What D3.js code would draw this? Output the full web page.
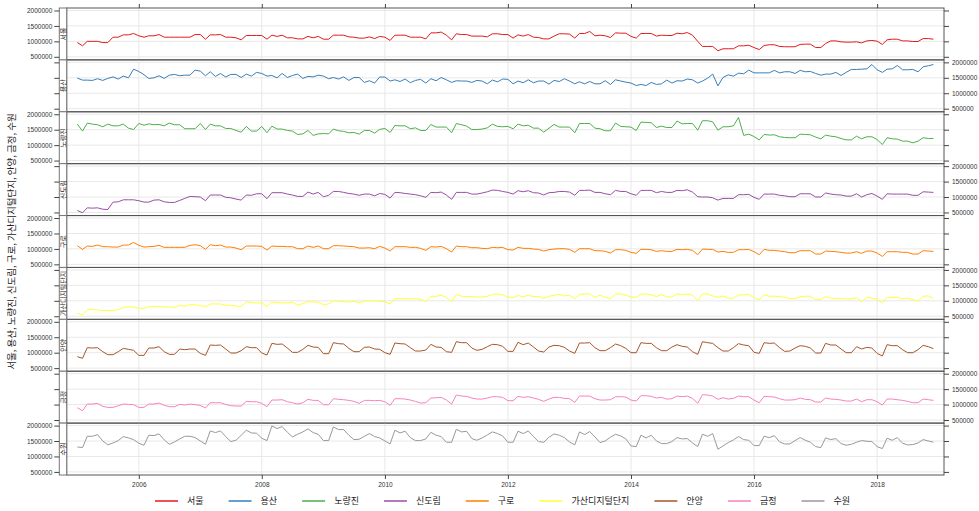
<!DOCTYPE html>
<html>
<head>
<meta charset="utf-8">
<script src="https://cdn.jsdelivr.net/npm/d3@7"></script>
<style>
body { margin: 0; background: #fff; }
svg { display: block; }
</style>
</head>
<body>
<svg width="979" height="511"></svg>
<script>
// monthly passenger counts, 2005-01 .. 2018-12, in thousands
const stations = ["서울", "용산", "노량진", "신도림", "구로", "가산디지털단지", "안양", "금정", "수원"];
const colors = ["#E41A1C", "#377EB8", "#4DAF4A", "#984EA3", "#FF7F00", "#FFFF33", "#A65628", "#F781BF", "#999999"];

const seoul = [960,855,1000,1000,1000,960,960,1135,1135,1210,1210,1255,
  1180,1135,1180,1180,1220,1135,1135,1135,1135,1135,1135,1220,
  1220,1070,1210,1210,1220,1135,1135,1115,1050,1190,1190,1190,
  1190,1070,1200,1160,1200,1115,1115,1080,1080,1160,1115,1160,
  1070,1070,1200,1200,1200,1145,1135,1105,1105,1145,1090,1160,
  1135,1030,1200,1200,1200,1135,1135,1135,1080,1275,1275,1300,
  1200,1050,1245,1220,1220,1170,1170,1170,1145,1245,1245,1220,
  1220,1105,1210,1170,1220,1135,1125,1080,1080,1170,1245,1245,
  1235,1105,1255,1255,1320,1180,1200,1180,1125,1275,1265,1265,
  1160,1105,1255,1255,1255,1170,1200,1190,1190,1265,1245,1285,
  1200,1000,835,835,835,695,760,760,760,855,855,875,
  800,735,865,890,890,835,825,825,825,900,910,910,
  800,800,930,1015,1015,985,975,975,985,950,1015,1030,
  1005,900,1050,1070,1070,1015,1015,995,995,1090,1090,1070];

const yongsan = [1490,1425,1425,1415,1470,1415,1480,1530,1460,1555,1500,1780,
  1705,1600,1480,1500,1565,1480,1585,1610,1565,1585,1585,1750,
  1715,1565,1695,1545,1640,1525,1610,1610,1510,1620,1555,1675,
  1640,1555,1575,1500,1640,1510,1575,1620,1480,1545,1530,1585,
  1555,1470,1510,1460,1530,1415,1510,1510,1350,1405,1330,1525,
  1525,1395,1435,1380,1460,1340,1415,1450,1330,1470,1405,1510,
  1435,1350,1405,1395,1395,1350,1415,1395,1305,1425,1370,1460,
  1450,1305,1395,1340,1435,1340,1395,1395,1295,1415,1380,1470,
  1395,1305,1370,1305,1380,1305,1305,1405,1285,1435,1395,1360,
  1330,1250,1285,1250,1350,1285,1305,1425,1330,1405,1395,1460,
  1435,1330,1395,1490,1620,1240,1510,1595,1555,1650,1630,1750,
  1660,1660,1660,1660,1740,1660,1695,1695,1640,1740,1695,1705,
  1640,1585,1620,1620,1675,1575,1675,1770,1770,1780,1790,1930,
  1760,1675,1780,1790,1900,1760,1760,1770,1695,1855,1890,1930];

const noryangjin = [1680,1455,1715,1680,1660,1595,1680,1625,1625,1680,1550,1505,
  1700,1645,1690,1660,1670,1625,1715,1660,1660,1530,1530,1530,
  1700,1505,1680,1625,1625,1540,1540,1475,1420,1605,1455,1455,
  1605,1400,1615,1520,1520,1475,1455,1345,1365,1475,1315,1365,
  1375,1365,1520,1465,1445,1400,1410,1355,1475,1475,1390,1510,
  1540,1410,1635,1625,1625,1530,1560,1475,1475,1670,1585,1585,
  1585,1400,1700,1660,1615,1505,1505,1520,1560,1680,1605,1595,
  1605,1530,1680,1625,1645,1550,1550,1420,1550,1670,1585,1585,
  1585,1400,1700,1700,1700,1550,1530,1465,1465,1715,1605,1595,
  1585,1475,1745,1735,1725,1570,1615,1570,1570,1780,1690,1700,
  1700,1485,1790,1790,1755,1485,1595,1595,1625,1895,1315,1355,
  1280,1170,1345,1325,1335,1270,1250,1240,1240,1355,1345,1335,
  1260,1205,1325,1290,1270,1215,1170,1170,1290,1205,1270,1270,
  1180,1020,1240,1205,1195,1130,1130,1075,1130,1240,1215,1215];

const sindorim = [565,490,650,640,650,605,595,835,845,910,910,910,
  880,835,835,900,910,845,825,825,890,955,1020,1010,
  1000,880,1065,1065,1065,990,975,935,900,1065,1055,1105,
  1105,945,1140,1140,1140,1095,1065,1020,1020,1160,1095,1150,
  1010,1055,1180,1180,1150,1115,1095,1055,1095,1095,1040,1115,
  1085,965,1150,1140,1115,1095,1075,1040,990,1150,1140,1160,
  1065,925,1150,1150,1150,1095,1095,1130,1170,1225,1215,1180,
  1150,1095,1205,1170,1205,1140,1130,1065,1140,1150,1180,1180,
  1160,1055,1215,1215,1225,1150,1150,1105,1075,1215,1180,1180,
  1105,1055,1215,1215,1215,1140,1180,1150,1150,1215,1205,1235,
  1160,1010,1000,1000,975,900,955,955,955,1075,1075,1085,
  990,925,1095,1095,1095,1055,1040,1010,1010,1105,1105,1105,
  1000,1000,1130,1095,1075,1065,1030,1030,1105,1000,1075,1115,
  1030,925,1105,1095,1095,1095,1095,1055,1055,1170,1160,1150];

const guro = [1104,985,1093,1082,1125,1072,1072,1060,1060,1125,1125,1212,
  1115,1060,1072,1082,1115,1050,1050,1050,1050,1050,1115,1136,
  1104,985,1136,1104,1125,1060,1060,1028,974,1093,1093,1093,
  1082,963,1093,1082,1082,1072,1072,1007,1007,1093,1050,1093,
  1007,1007,1104,1104,1093,1082,1072,1028,1028,1039,1007,1082,
  1028,931,1072,1072,1072,1050,1050,1018,953,1072,1060,1082,
  1007,899,1093,1072,1072,1039,1039,1018,1007,1050,1039,1050,
  974,963,1050,1018,1018,996,985,931,974,996,1007,1007,
  985,888,1007,1007,1007,942,942,920,866,974,974,953,
  888,856,985,985,974,920,942,920,920,985,974,985,
  953,812,996,985,985,899,920,888,888,974,974,985,
  910,812,985,953,953,931,910,877,877,942,942,942,
  834,834,931,920,910,888,866,866,910,856,931,931,
  866,758,910,910,910,888,888,834,834,942,931,920];

const gasan = [596,542,704,715,704,682,682,682,715,790,801,801,
  758,758,812,812,823,801,801,780,855,823,877,866,
  855,801,898,898,898,855,855,834,812,963,942,931,
  931,823,963,942,931,931,953,855,909,974,963,953,
  877,898,996,996,963,963,985,931,996,996,996,996,
  963,898,1071,1071,1071,1071,1071,1050,974,1147,1147,1179,
  1114,974,1201,1147,1136,1136,1125,1125,1147,1201,1222,1190,
  1125,1104,1169,1136,1179,1136,1147,1082,1147,1179,1212,1158,
  1179,1071,1201,1222,1222,1114,1179,1114,1071,1222,1222,1179,
  1125,1114,1212,1222,1190,1136,1201,1125,1125,1222,1201,1222,
  1179,1006,1222,1222,1158,1114,1158,1082,1082,1190,1190,1201,
  1104,1039,1201,1147,1147,1136,1114,1071,1071,1125,1147,1147,
  1039,1039,1136,1082,1082,1071,1061,1061,1104,963,1114,1082,
  1061,931,1104,1114,1114,1061,1093,1039,985,1147,1158,1082];

const anyang = [870,817,1162,1151,1162,1032,935,935,1032,1140,1108,1076,
  914,914,1151,1151,1194,1032,946,946,1119,1097,1119,1119,
  978,914,1248,1238,1248,1119,989,989,1065,1194,1162,1162,
  989,924,1302,1270,1281,1151,1011,1011,1108,1238,1184,1173,
  968,968,1324,1292,1281,1140,1032,1032,1173,1184,1119,1108,
  1000,946,1313,1292,1281,1162,1054,1054,1086,1270,1184,1173,
  1032,1011,1356,1324,1324,1151,1076,1108,1194,1270,1259,1205,
  1043,1043,1335,1259,1313,1184,1054,1022,1184,1238,1227,1173,
  1054,978,1313,1313,1324,1162,1065,1065,1162,1281,1227,1140,
  1000,1000,1324,1302,1302,1162,1065,1065,1184,1259,1205,1184,
  1032,946,1356,1324,1302,1162,1054,1054,1162,1292,1248,1227,
  1011,978,1324,1302,1313,1162,1043,1054,1151,1227,1205,1151,
  989,989,1302,1248,1248,1119,1000,1000,1194,1119,1173,1151,
  978,892,1259,1227,1227,1097,1000,1000,1097,1238,1194,1130];

const geumjeong = [898,801,1017,1017,1039,942,909,909,963,1017,1006,996,
  909,909,1017,1017,1050,974,931,931,1006,985,1017,996,
  974,888,1060,1060,1060,1006,963,952,952,1104,1093,1093,
  1039,931,1147,1147,1158,1093,1060,1017,1060,1169,1136,1136,
  996,996,1190,1169,1158,1136,1104,1039,1136,1136,1125,1136,
  1093,974,1190,1190,1179,1147,1104,1050,1060,1212,1222,1233,
  1147,1017,1309,1276,1266,1212,1179,1179,1212,1255,1255,1233,
  1125,1125,1266,1233,1255,1212,1169,1104,1179,1233,1233,1201,
  1190,1071,1276,1276,1276,1190,1147,1147,1158,1255,1255,1244,
  1147,1114,1287,1287,1266,1212,1233,1179,1190,1276,1255,1276,
  1201,1039,1320,1309,1276,1169,1222,1179,1201,1276,1255,1255,
  1147,1060,1266,1255,1244,1190,1147,1147,1158,1212,1169,1158,
  1082,1082,1212,1179,1169,1147,1114,1114,1179,1093,1158,1158,
  1093,985,1179,1179,1158,1136,1104,1060,1060,1179,1158,1136];

const suwon = [1309,1287,1654,1654,1708,1503,1374,1438,1514,1644,1600,1546,
  1428,1363,1687,1676,1730,1536,1395,1471,1568,1654,1654,1611,
  1503,1395,1827,1773,1827,1644,1482,1525,1687,1849,1762,1752,
  1590,1514,1989,1903,1968,1784,1633,1719,1795,1892,1773,1719,
  1514,1514,1957,1870,1870,1687,1546,1557,1654,1741,1644,1600,
  1503,1406,1849,1762,1816,1611,1514,1514,1568,1784,1687,1644,
  1460,1460,1881,1795,1816,1579,1525,1600,1698,1795,1741,1665,
  1460,1460,1816,1741,1827,1644,1482,1460,1622,1730,1687,1611,
  1471,1374,1795,1708,1806,1633,1449,1503,1622,1719,1665,1568,
  1341,1320,1687,1600,1687,1503,1417,1417,1482,1611,1568,1579,
  1438,1320,1719,1654,1741,1233,1341,1449,1536,1644,1546,1525,
  1352,1352,1654,1611,1676,1471,1406,1406,1514,1611,1525,1460,
  1320,1287,1600,1546,1579,1417,1363,1395,1460,1514,1492,1482,
  1320,1255,1590,1525,1611,1428,1374,1385,1438,1546,1503,1460];

const series = [seoul, yongsan, noryangjin, sindorim, guro, gasan, anyang, geumjeong, suwon];
const months = d3.range(168).map(i => new Date(2005, i, 1));
const yearTicks = [2006, 2008, 2010, 2012, 2014, 2016, 2018].map(y => new Date(y, 0, 1));
const yTicks = [500000, 1000000, 1500000, 2000000];
const yTitle = "서울, 용산, 노량진, 신도림, 구로, 가산디지털단지, 안양, 금정, 수원";

const svg = d3.select("svg");
const numFont = "'Liberation Sans', Arial, sans-serif";
const korFont = "'Noto Sans CJK KR', 'Noto Sans', sans-serif";

const plotL = 66.7, plotR = 944, plotT = 8, plotB = 475;
const stripW = 7.4;
const stripL = plotL - stripW;
const panelH = (plotB - plotT) / stations.length;

// x scale with a small pad on both sides, like lattice
const t0 = months[0].getTime(), t1 = months[months.length - 1].getTime();
const pad = (t1 - t0) * 0.0124;
const x = d3.scaleTime()
    .domain([new Date(t0 - pad), new Date(t1 + pad)])
    .range([plotL, plotR]);

const y = d3.scaleLinear()
    .domain([400000, 2080000])
    .range([panelH, 0]);

const line = d3.line()
    .x((d, i) => x(months[i]))
    .y(d => y(d * 1000));

function styleAxis(g) {
    g.select(".domain").remove();
    g.selectAll(".tick line").attr("stroke", "#444");
    g.selectAll(".tick text")
        .attr("fill", "#333")
        .style("font-family", numFont)
        .style("font-size", "6.5px");
}

stations.forEach((name, i) => {
    const top = plotT + i * panelH;
    const g = svg.append("g").attr("transform", `translate(0,${top})`);

    // grid
    g.selectAll(".hgrid").data(yTicks).enter().append("line")
        .attr("x1", plotL).attr("x2", plotR)
        .attr("y1", d => y(d)).attr("y2", d => y(d))
        .attr("stroke", "#e8e8e8");
    g.selectAll(".vgrid").data(yearTicks).enter().append("line")
        .attr("x1", d => x(d)).attr("x2", d => x(d))
        .attr("y1", 0).attr("y2", panelH)
        .attr("stroke", "#e8e8e8");

    svg.append("clipPath").attr("id", "clip" + i)
        .append("rect").attr("x", plotL).attr("y", 0)
        .attr("width", plotR - plotL).attr("height", panelH);

    g.append("path")
        .datum(series[i])
        .attr("d", line)
        .attr("fill", "none")
        .attr("stroke", colors[i])
        .attr("stroke-width", 1)
        .attr("clip-path", `url(#clip${i})`);

    g.append("rect")
        .attr("x", plotL).attr("y", 0)
        .attr("width", plotR - plotL).attr("height", panelH)
        .attr("fill", "none").attr("stroke", "#555");

    // strip on the left, label clipped to it
    svg.append("clipPath").attr("id", "sclip" + i)
        .append("rect").attr("x", stripL).attr("y", 0)
        .attr("width", stripW).attr("height", panelH);
    g.append("rect")
        .attr("x", stripL).attr("y", 0)
        .attr("width", stripW).attr("height", panelH)
        .attr("fill", "#fff").attr("stroke", "#777");
    g.append("g").attr("clip-path", `url(#sclip${i})`)
        .append("text")
        .attr("transform", `translate(${stripL + stripW / 2 + 2.6},${panelH / 2}) rotate(-90)`)
        .attr("text-anchor", "middle")
        .style("font-family", korFont)
        .style("font-size", "7px")
        .attr("fill", "#222")
        .text(name);

    const labelLeft = i % 2 === 0;
    const left = d3.axisLeft(y).tickValues(yTicks).tickSize(5).tickPadding(2)
        .tickFormat(labelLeft ? d3.format("d") : "");
    g.append("g").attr("transform", `translate(${stripL},0)`).call(left).call(styleAxis);

    const right = d3.axisRight(y).tickValues(yTicks).tickSize(5).tickPadding(3)
        .tickFormat(labelLeft ? "" : d3.format("d"));
    g.append("g").attr("transform", `translate(${plotR},0)`).call(right).call(styleAxis);
});

// x axes
svg.append("g").attr("transform", `translate(0,${plotT})`)
    .call(d3.axisTop(x).tickValues(yearTicks).tickSize(4).tickFormat(""))
    .call(styleAxis);
svg.append("g").attr("transform", `translate(0,${plotB})`)
    .call(d3.axisBottom(x).tickValues(yearTicks).tickSize(4).tickPadding(3)
        .tickFormat(d3.timeFormat("%Y")))
    .call(styleAxis);

// y title
svg.append("text")
    .attr("transform", `translate(14.5,${(plotT + plotB) / 2}) rotate(-90)`)
    .attr("text-anchor", "middle")
    .style("font-family", korFont)
    .style("font-size", "9.5px")
    .attr("fill", "#222")
    .text(yTitle);

// legend
const legend = svg.append("g").attr("transform", "translate(0,501)");
let cx = 155;
stations.forEach((name, i) => {
    legend.append("line")
        .attr("x1", cx).attr("x2", cx + 23)
        .attr("y1", 0).attr("y2", 0)
        .attr("stroke", colors[i]).attr("stroke-width", 1.5);
    const t = legend.append("text")
        .attr("x", cx + 32).attr("y", 3)
        .style("font-family", korFont)
        .style("font-size", "9px")
        .attr("fill", "#222")
        .text(name);
    cx += 32 + t.node().getComputedTextLength() + 25;
});
</script>
</body>
</html>
